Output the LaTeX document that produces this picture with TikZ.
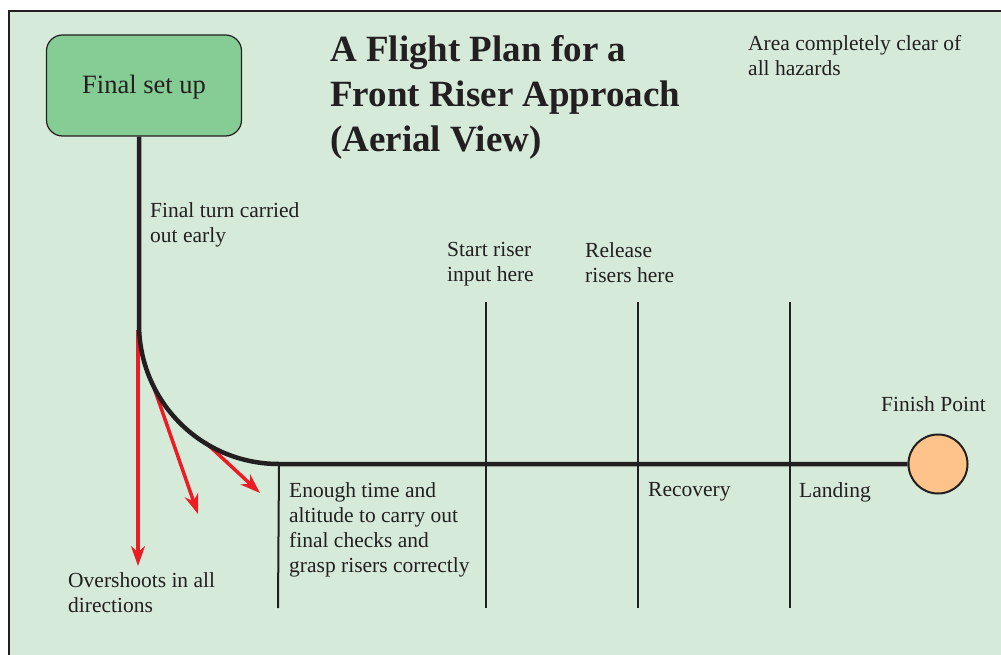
\documentclass[tikz,border=0pt]{standalone}
\usepackage{fontspec}
\setmainfont{Liberation Serif}
\usetikzlibrary{arrows.meta}
\definecolor{bg}{RGB}{213,234,216}
\definecolor{boxfill}{RGB}{134,205,149}
\definecolor{finfill}{RGB}{253,195,138}
\definecolor{ink}{RGB}{35,31,32}
\definecolor{arrred}{RGB}{237,28,36}
\tikzset{
  lbl/.style={font=\fontsize{21.5}{25}\selectfont, align=left, anchor=north west, inner sep=0pt, text=ink},
  ttl/.style={font=\bfseries\fontsize{37}{45}\selectfont, align=left, anchor=north west, inner sep=0pt, text=ink},
  pathline/.style={draw=ink, line width=4.5pt},
  tick/.style={draw=ink, line width=2pt},
  over/.style={draw=arrred, line width=3.5pt, -{Stealth[length=20pt,width=14pt]}},
}
\begin{document}
\begin{tikzpicture}[x=1pt,y=-1pt]
\useasboundingbox (0,0) rectangle (1001,655);
\fill[white] (0,0) rectangle (1001,655);
\draw[fill=bg, draw=ink, line width=2.5pt] (9,11) rectangle (1020,680);
% title and labels
\node[ttl] (title) at (330,35) {A Flight Plan for a\\Front Riser Approach\\(Aerial View)};
\node[lbl] (clear) at (748,35) {Area completely clear of\\all hazards};
\node[lbl] (turn) at (150,202) {Final turn carried\\out early};
\node[lbl] (start) at (447,242) {Start riser\\input here};
\node[lbl] (release) at (585,242) {Release\\risers here};
\node[lbl] (finlbl) at (881,396) {Finish Point};
\node[lbl] (enough) at (289,482) {Enough time and\\altitude to carry out\\final checks and\\grasp risers correctly};
\node[lbl] (recov) at (648,482) {Recovery};
\node[lbl] (land) at (799,482) {Landing};
\node[lbl] (oversh) at (68,572) {Overshoots in all\\directions};
% nodes
\node[draw=ink, line width=1.2pt, fill=boxfill, rounded corners=16pt, minimum width=195pt, minimum height=101pt, inner sep=0pt, font=\fontsize{26.5}{30}\selectfont, text=ink, text height=20pt, text depth=4pt] (setup) at (144,85.5) {Final set up};
\node[circle, draw=ink, line width=2pt, fill=finfill, minimum size=59pt, inner sep=0pt] (finish) at (938,464) {};
% coordinates
\coordinate (turnA) at (139,324);
\coordinate (turnB) at (279,464);
\coordinate (t1top) at (486,302);
\coordinate (t1bot) at (486,608);
\coordinate (t2top) at (638,302);
\coordinate (t2bot) at (638,608);
\coordinate (t3top) at (790,302);
\coordinate (t3bot) at (790,608);
\coordinate (t0bot) at (278,608);
\coordinate (a1s) at (138,330);
\coordinate (a1e) at (138,566);
\coordinate (a2s) at (152,382);
\coordinate (a2e) at (198,514);
\coordinate (a3s) at (205,442);
\coordinate (a3e) at (260,493);
% ticks
\draw[tick] (turnB) -- (t0bot);
\draw[tick] (t1top) -- (t1bot);
\draw[tick] (t2top) -- (t2bot);
\draw[tick] (t3top) -- (t3bot);
% red overshoot arrows
\draw[over] (a1s) -- (a1e);
\draw[over] (a2s) -- (a2e);
\draw[over] (a3s) -- (a3e);
% main path
\draw[pathline] (setup.south -| turnA) -- (turnA) .. controls (139,401) and (201,464) .. (turnB) -- (finish.west);
\end{tikzpicture}
\end{document}
